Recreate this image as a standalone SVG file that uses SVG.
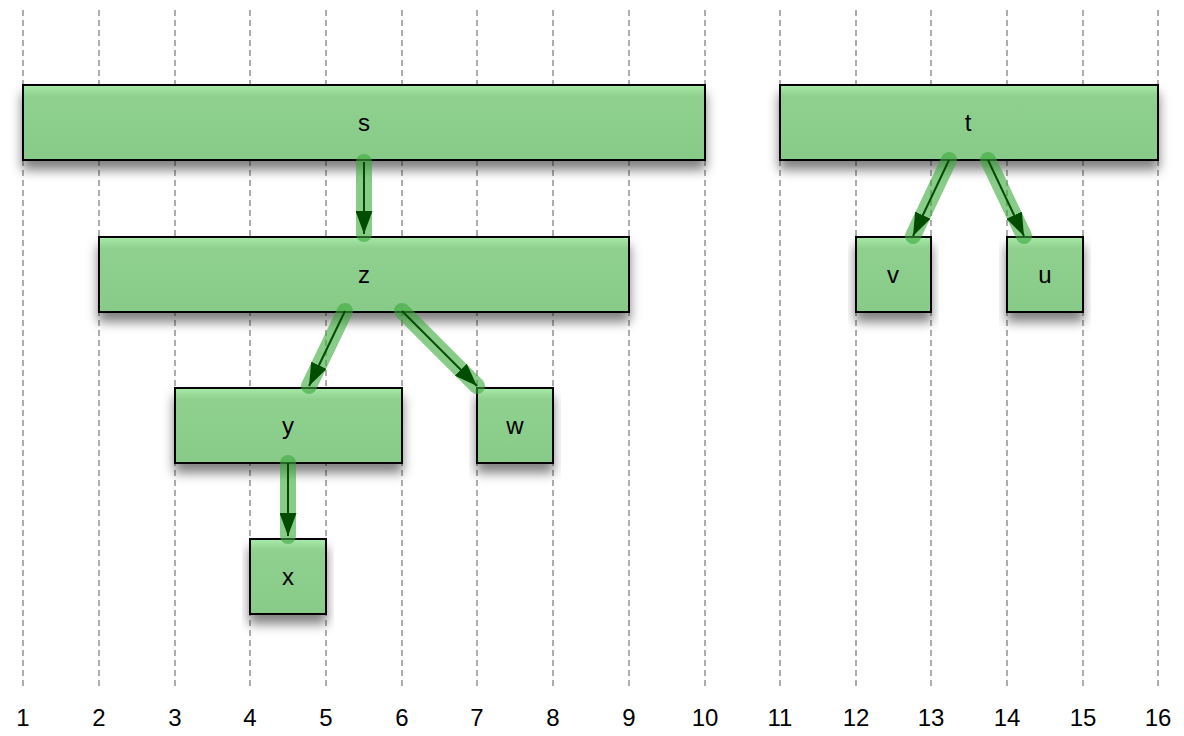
<svg xmlns="http://www.w3.org/2000/svg" width="1184" height="736" viewBox="0 0 1184 736">
<style>
.grid{stroke:#999;stroke-width:1.6;stroke-dasharray:6,4;fill:none}
.num{font-family:"Liberation Sans",Arial,sans-serif;font-size:24px;fill:#000;text-anchor:middle}
.box{fill:url(#g);stroke:#000;stroke-width:2;filter:url(#sh)}
.lbl{font-family:"Liberation Sans",Arial,sans-serif;font-size:24px;fill:#000;text-anchor:middle}
.band{stroke:#3aa83a;stroke-opacity:0.6;stroke-width:16;stroke-linecap:round;fill:none}
.ln{stroke:#004d00;stroke-width:2;fill:none;marker-end:url(#ah)}
</style>
<defs>
<linearGradient id="g" x1="0" y1="0" x2="0" y2="1">
<stop offset="0" stop-color="#a8eaa8"/>
<stop offset="0.15" stop-color="#8fd08f"/>
<stop offset="1" stop-color="#88cb88"/>
</linearGradient>
<filter id="sh" x="-10%" y="-30%" width="120%" height="190%">
<feGaussianBlur in="SourceAlpha" stdDeviation="6"/>
<feOffset dx="0" dy="9" result="b"/>
<feComponentTransfer><feFuncA type="linear" slope="0.5"/></feComponentTransfer>
<feMerge><feMergeNode/><feMergeNode in="SourceGraphic"/></feMerge>
</filter>
<marker id="ah" markerWidth="23" markerHeight="17" refX="23" refY="8.5" orient="auto" markerUnits="userSpaceOnUse">
<path d="M0,0 L23,8.5 L0,17 Z" fill="#004d00"/>
</marker>
</defs>
<rect width="1184" height="736" fill="#fff"/>
<g id="grid">
<line class="grid" x1="23" y1="10" x2="23" y2="688"/>
<line class="grid" x1="99" y1="10" x2="99" y2="688"/>
<line class="grid" x1="175" y1="10" x2="175" y2="688"/>
<line class="grid" x1="250" y1="10" x2="250" y2="688"/>
<line class="grid" x1="326" y1="10" x2="326" y2="688"/>
<line class="grid" x1="402" y1="10" x2="402" y2="688"/>
<line class="grid" x1="477" y1="10" x2="477" y2="688"/>
<line class="grid" x1="553" y1="10" x2="553" y2="688"/>
<line class="grid" x1="629" y1="10" x2="629" y2="688"/>
<line class="grid" x1="705" y1="10" x2="705" y2="688"/>
<line class="grid" x1="780" y1="10" x2="780" y2="688"/>
<line class="grid" x1="856" y1="10" x2="856" y2="688"/>
<line class="grid" x1="931" y1="10" x2="931" y2="688"/>
<line class="grid" x1="1007" y1="10" x2="1007" y2="688"/>
<line class="grid" x1="1083" y1="10" x2="1083" y2="688"/>
<line class="grid" x1="1158" y1="10" x2="1158" y2="688"/>
<text class="num" x="23" y="726">1</text>
<text class="num" x="99" y="726">2</text>
<text class="num" x="175" y="726">3</text>
<text class="num" x="250" y="726">4</text>
<text class="num" x="326" y="726">5</text>
<text class="num" x="402" y="726">6</text>
<text class="num" x="477" y="726">7</text>
<text class="num" x="553" y="726">8</text>
<text class="num" x="629" y="726">9</text>
<text class="num" x="705" y="726">10</text>
<text class="num" x="780" y="726">11</text>
<text class="num" x="856" y="726">12</text>
<text class="num" x="931" y="726">13</text>
<text class="num" x="1007" y="726">14</text>
<text class="num" x="1083" y="726">15</text>
<text class="num" x="1158" y="726">16</text>
</g>
<g id="node-s"><rect class="box" x="23" y="85" width="682" height="75"/><text class="lbl" x="364" y="131">s</text></g>
<g id="node-t"><rect class="box" x="780" y="85" width="378" height="75"/><text class="lbl" x="968" y="131">t</text></g>
<g id="node-z"><rect class="box" x="99" y="237" width="530" height="75"/><text class="lbl" x="364" y="283">z</text></g>
<g id="node-v"><rect class="box" x="856" y="237" width="75" height="75"/><text class="lbl" x="893" y="283">v</text></g>
<g id="node-u"><rect class="box" x="1007" y="237" width="76" height="75"/><text class="lbl" x="1045" y="283">u</text></g>
<g id="node-y"><rect class="box" x="175" y="388" width="227" height="75"/><text class="lbl" x="288" y="434">y</text></g>
<g id="node-w"><rect class="box" x="477" y="388" width="76" height="75"/><text class="lbl" x="515" y="434">w</text></g>
<g id="node-x"><rect class="box" x="250" y="539" width="76" height="75"/><text class="lbl" x="288" y="585">x</text></g>
<g id="connectors">
<line class="band" x1="364" y1="162" x2="364" y2="234"/>
<line class="ln" x1="364" y1="162" x2="364" y2="234"/>
<line class="band" x1="345" y1="311" x2="309" y2="386"/>
<line class="ln" x1="345" y1="311" x2="309" y2="386"/>
<line class="band" x1="402" y1="311" x2="477" y2="386"/>
<line class="ln" x1="402" y1="311" x2="477" y2="386"/>
<line class="band" x1="288" y1="463" x2="288" y2="536"/>
<line class="ln" x1="288" y1="463" x2="288" y2="536"/>
<line class="band" x1="949" y1="160" x2="913" y2="236"/>
<line class="ln" x1="949" y1="160" x2="913" y2="236"/>
<line class="band" x1="988" y1="160" x2="1024" y2="236"/>
<line class="ln" x1="988" y1="160" x2="1024" y2="236"/>
</g>
</svg>
